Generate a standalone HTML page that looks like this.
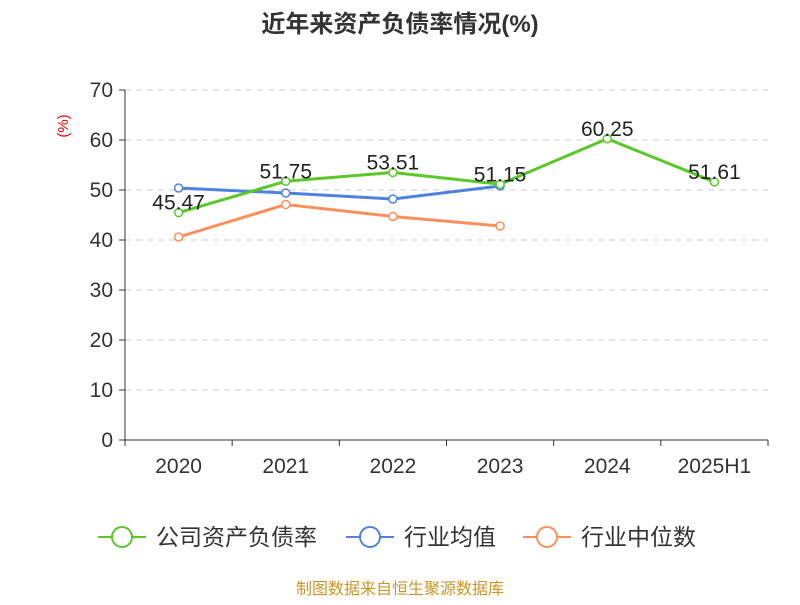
<!DOCTYPE html>
<html><head><meta charset="utf-8"><style>
body{margin:0;background:#fff;}
svg text{font-family:"Liberation Sans","Noto Sans CJK SC",sans-serif;}
</style></head><body>
<svg id="c" width="800" height="600">
<text x="400" y="32" text-anchor="middle" font-size="24" font-weight="bold" fill="#333">近年来资产负债率情况(%)</text>
<text x="68" y="126" font-size="15" fill="#e00" transform="rotate(-90 68 126)" text-anchor="middle">(%)</text>
<g id="grid"></g><g id="axes"></g><g id="series"></g>
<g>
<g><line x1="98" y1="537" x2="146" y2="537" stroke="#5ac828" stroke-width="2"/><circle cx="122" cy="537" r="10" fill="#fff" stroke="#5ac828" stroke-width="2"/><text x="156" y="545" font-size="23" fill="#333">公司资产负债率</text></g>
<g><line x1="346" y1="537" x2="394" y2="537" stroke="#4f82e0" stroke-width="2"/><circle cx="370" cy="537" r="10" fill="#fff" stroke="#4f82e0" stroke-width="2"/><text x="404" y="545" font-size="23" fill="#333">行业均值</text></g>
<g><line x1="523" y1="537" x2="571" y2="537" stroke="#ff8f5a" stroke-width="2"/><circle cx="547" cy="537" r="10" fill="#fff" stroke="#ff8f5a" stroke-width="2"/><text x="581" y="545" font-size="23" fill="#333">行业中位数</text></g>
</g>
<text x="400" y="594" text-anchor="middle" font-size="16" fill="#c8962a">制图数据来自恒生聚源数据库</text>
</svg>
<script>
const categories=["2020","2021","2022","2023","2024","2025H1"];
const companyValues=[45.47,51.75,53.51,51.15,60.25,51.61];
const industryAvg=[50.4,49.4,48.2,50.8];
const industryMedian=[40.6,47.1,44.7,42.8];
const yTicks=[0,10,20,30,40,50,60,70];
const NS="http://www.w3.org/2000/svg";
const x0=125,x1=768,y0=440,y1=90,yMax=70;
const bw=(x1-x0)/categories.length;
const xs=i=>x0+bw*(i+0.5);
const ys=v=>y0-(v/yMax)*(y0-y1);
function mk(t,a,p){const e=document.createElementNS(NS,t);for(const k in a)e.setAttribute(k,a[k]);p.appendChild(e);return e;}
const grid=document.getElementById('grid'),axes=document.getElementById('axes'),ser=document.getElementById('series');
yTicks.forEach(v=>{
 if(v>0){const g=mk('line',{x1:x0,x2:x1,y1:ys(v),y2:ys(v),stroke:'#ccc','stroke-dasharray':'6,5'},grid);
 
 }
 const tk=mk('line',{x1:x0-6,x2:x0,y1:ys(v),y2:ys(v),stroke:'#333'},axes);
 
 
 const t=mk('text',{x:x0-12,y:ys(v)+7,'text-anchor':'end','font-size':21,fill:'#333'},axes);t.textContent=v;
 
 
});
const ya=mk('line',{x1:x0,x2:x0,y1:y1,y2:y0,stroke:'#333'},axes);


const xa=mk('line',{x1:x0,x2:x1,y1:y0,y2:y0,stroke:'#333'},axes);


for(let i=0;i<=categories.length;i++){const tk=mk('line',{x1:x0+bw*i,x2:x0+bw*i,y1:y0,y2:y0+6,stroke:'#333'},axes);
 
 }
categories.forEach((c,i)=>{const t=mk('text',{x:xs(i),y:y0+33,'text-anchor':'middle','font-size':21,fill:'#333'},axes);t.textContent=c;
 
 });
function line(vals,color,name,labels){
 const g=mk('g',{},ser);
 
 
 mk('polyline',{points:vals.map((v,i)=>xs(i)+','+ys(v)).join(' '),fill:'none',stroke:color,'stroke-width':3},g);
 vals.forEach((v,i)=>{const p=mk('circle',{cx:xs(i),cy:ys(v),r:4,fill:'#fff',stroke:color,'stroke-width':1.5},g);
  
  
  if(labels){const t=mk('text',{x:xs(i),y:ys(v)-3,'text-anchor':'middle','font-size':21,fill:'#222'},g);t.textContent=v.toFixed(2);
  
  }});
}
line(industryMedian,'#ff8f5a','industry-median-line',false);
line(industryAvg,'#4f82e0','industry-avg-line',false);
line(companyValues,'#5ac828','company-line',true);
</script>
</body></html>
